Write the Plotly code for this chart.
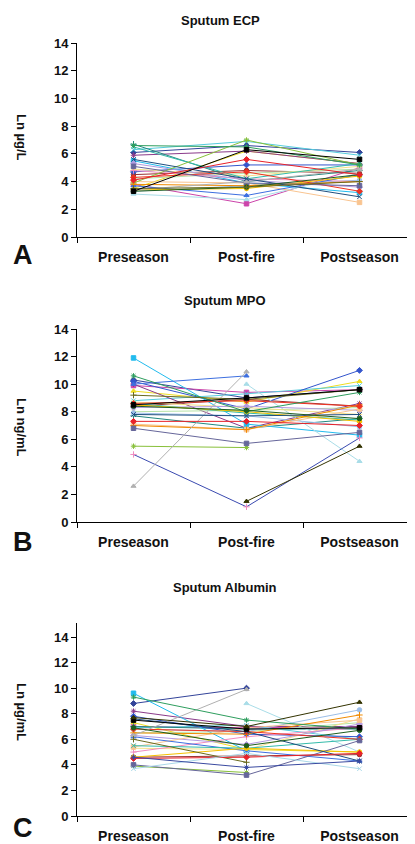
import plotly.graph_objects as go

categories = ["Preseason", "Post-fire", "Postseason"]
y_ticks = [0, 2, 4, 6, 8, 10, 12, 14]

# ---- Panel A: Sputum ECP (Ln ug/L) ----
ecp_pre = [6.1, 3.8, 3.5, 6.3, 5.9, 4.5, 6.7, 4.7, 5.5, 3.1, 4.2, 4.9, 3.3, 4.8, 5.3,
           4.0, 3.7, 6.5, 3.9, 3.4, 3.8, 4.3, 5.1, 3.4, 5.6, 6.6, 3.3, 3.5, 4.1, 3.3]
ecp_postfire = [6.6, 2.4, 6.2, 6.9, 6.2, 4.8, 4.0, 5.2, 3.9, 2.7, 4.6, 4.4, 3.7, 4.2, 4.1,
                3.9, 3.0, 4.2, 7.0, 3.5, 3.7, 4.7, 3.9, 4.0, 4.2, 6.5, 3.6, 3.6, 5.6, 6.3]
ecp_post = [6.1, 5.0, 5.3, 5.9, 5.3, 4.6, 4.8, 5.2, 3.2, 4.6, 4.9, 5.1, 4.1, 4.0, 3.6,
            2.5, 4.5, 5.3, 5.2, 4.4, 4.0, 3.3, 3.7, 4.9, 2.9, 5.2, 4.5, 4.0, 4.5, 5.6]

# ---- Panel B: Sputum MPO (Ln ng/mL) ----
mpo_pre = [10.3, 9.9, 9.5, 8.8, 10.0, 8.4, 7.7, 10.2, 11.9, None, 8.0, 8.7, 7.9, 4.9, 8.3,
           7.1, 10.0, 8.6, 5.5, 8.5, 7.0, 8.6, 6.8, 2.6, 7.8, 10.6, 8.4, 9.2, 7.3, 8.5, None]
mpo_postfire = [9.0, 9.4, 8.7, 9.3, 6.8, 8.9, 6.8, 8.2, 7.1, 10.0, 8.1, 8.3, 7.7, 1.1, 8.4,
                6.7, 10.6, 7.9, 5.4, 8.0, 6.7, 8.8, 5.7, 10.9, 7.7, 8.0, 8.1, 8.9, 7.3, 9.0, 1.5]
mpo_post = [9.6, 9.6, 10.2, 9.9, 8.6, 8.4, 7.5, 11.0, 6.3, 4.4, 8.3, 7.8, 6.9, 6.1, 8.1,
            8.2, None, 7.4, None, 7.3, 8.5, 8.4, 6.5, None, 7.8, 9.4, 7.5, 9.6, 7.0, 9.6, 5.5]

# ---- Panel C: Sputum Albumin (Ln ug/mL) ----
alb_pre = [8.8, 7.0, 7.3, 6.9, 8.2, 4.6, 7.0, 7.8, 9.6, None, 6.5, 5.3, 6.8, 5.0, 6.3,
           5.4, 6.2, 5.5, 3.9, 4.6, 6.5, 6.8, 4.0, 6.3, 7.6, 9.3, 6.9, 6.0, 4.5, 7.5, 7.7, 3.7, 4.6]
alb_postfire = [10.0, 6.9, 5.2, 7.1, 7.0, 4.7, 6.8, 6.4, 5.1, 8.8, 6.6, 5.2, 6.6, 6.2, 5.6,
                6.9, 5.1, 5.3, 3.4, 5.3, 6.4, 6.6, 3.2, 9.9, 6.6, 7.5, 5.5, 4.2, 4.6, 6.8, 7.0, 4.9, 3.8]
alb_post = [None, 7.0, 5.0, 6.0, 7.0, 4.8, 6.8, 6.2, None, 5.0, 7.3, 7.6, 8.3, 6.9, 7.2,
            7.5, 4.3, 6.0, None, 5.0, 7.9, 6.0, 5.9, None, 4.3, 6.8, 6.7, None, 4.9, 6.9, 8.9, 3.7, 4.3]

# ---- styles ----
palette = ["#33449A", "#CC44AA", "#EEDD22", "#55CCDD", "#8A3A8A", "#993333", "#22887F",
           "#3355CC", "#22BBEE", "#A9DDE8", "#B7E3A8", "#F5E08A", "#9BBEE8", "#F08CC0",
           "#B49BE0", "#F9C490", "#3D6FE0", "#33BBAA", "#88C03A", "#F5C000", "#F08A00",
           "#EE3322", "#66669A", "#B0B0B0", "#1F4F7F", "#2E9E5E", "#1E5E1E", "#6A6A1E",
           "#E8222A", "#000000", "#333300", "#A9D8E8", "#3A4AA0"]
symbols = ["diamond", "square", "triangle-up", "x-thin-open", "asterisk-open", "circle",
           "cross-thin-open"]

W, H = 415, 844
OFF = 8  # page body margin


def px(s):
    return (s - OFF) / W


def py(s):
    return 1 - (s - OFF) / H


panels = [
    dict(pre=ecp_pre, pf=ecp_postfire, post=ecp_post, top=43, bot=237, ymax=14,
         title="Sputum ECP", tx=221, ty=20, ylab="Ln µg/L", yl=137, letter="A", ly=255),
    dict(pre=mpo_pre, pf=mpo_postfire, post=mpo_post, top=329, bot=522, ymax=14,
         title="Sputum MPO", tx=225, ty=301, ylab="Ln ng/mL", yl=427, letter="B", ly=542),
    dict(pre=alb_pre, pf=alb_postfire, post=alb_post, top=623, bot=816, ymax=14 * 193 / 179,
         title="Sputum Albumin", tx=225, ty=587, ylab="Ln µg/mL", yl=712, letter="C", ly=828),
]

fig = go.Figure()
annotations = []
bold = dict(family="Liberation Sans, Arial, sans-serif", color="#111111", weight="bold")

for k, p in enumerate(panels):
    ax = "" if k == 0 else str(k + 1)
    for i in range(len(p["pre"])):
        c = palette[i % len(palette)]
        mc = c
        if p["letter"] == "B" and i == 13:
            c = "#3A4AB0"
        fig.add_trace(go.Scatter(
            x=categories, y=[p["pre"][i], p["pf"][i], p["post"][i]],
            xaxis="x" + ax, yaxis="y" + ax, mode="lines+markers",
            connectgaps=False, showlegend=False,
            line=dict(color=c, width=1),
            marker=dict(symbol=symbols[i % len(symbols)], size=4.5, color=mc,
                        line=dict(color=mc, width=1)),
        ))
    fig.layout["xaxis" + ax] = dict(
        domain=[px(77), px(416)], anchor="y" + ax, type="category",
        categoryorder="array", categoryarray=categories, range=[-0.5, 2.5],
        showline=True, linecolor="black", linewidth=1, automargin=False,
        ticks="outside", ticklen=5, tickcolor="black", tickson="boundaries",
        ticklabelstandoff=7,
        tickfont=dict(size=14, **bold), showgrid=False, zeroline=False, fixedrange=True)
    fig.layout["yaxis" + ax] = dict(
        domain=[py(p["bot"]), py(p["top"])], anchor="x" + ax, automargin=False,
        range=[0, p["ymax"]], tickvals=y_ticks,
        showline=True, linecolor="black", linewidth=1,
        ticks="outside", ticklen=5, tickcolor="black",
        tickfont=dict(size=13, **bold), showgrid=False, zeroline=False, fixedrange=True)
    annotations.append(dict(text=p["title"], x=px(p["tx"]), y=py(p["ty"]), xref="paper",
                            yref="paper", showarrow=False, xanchor="center", yanchor="middle",
                            font=dict(size=13, **bold)))
    annotations.append(dict(text=p["ylab"], x=px(22), y=py(p["yl"]), xref="paper",
                            yref="paper", showarrow=False, xanchor="center", yanchor="middle",
                            textangle=90, font=dict(size=13, **bold)))
    annotations.append(dict(text=p["letter"], x=px(23), y=py(p["ly"]), xref="paper",
                            yref="paper", showarrow=False, xanchor="center", yanchor="middle",
                            font=dict(size=27, **bold)))

fig.update_layout(width=W, height=H, margin=dict(l=0, r=0, t=0, b=0, autoexpand=False),
                  paper_bgcolor="white", plot_bgcolor="white",
                  annotations=annotations, showlegend=False)

fig.write_html("out.html", config={"displayModeBar": False})
